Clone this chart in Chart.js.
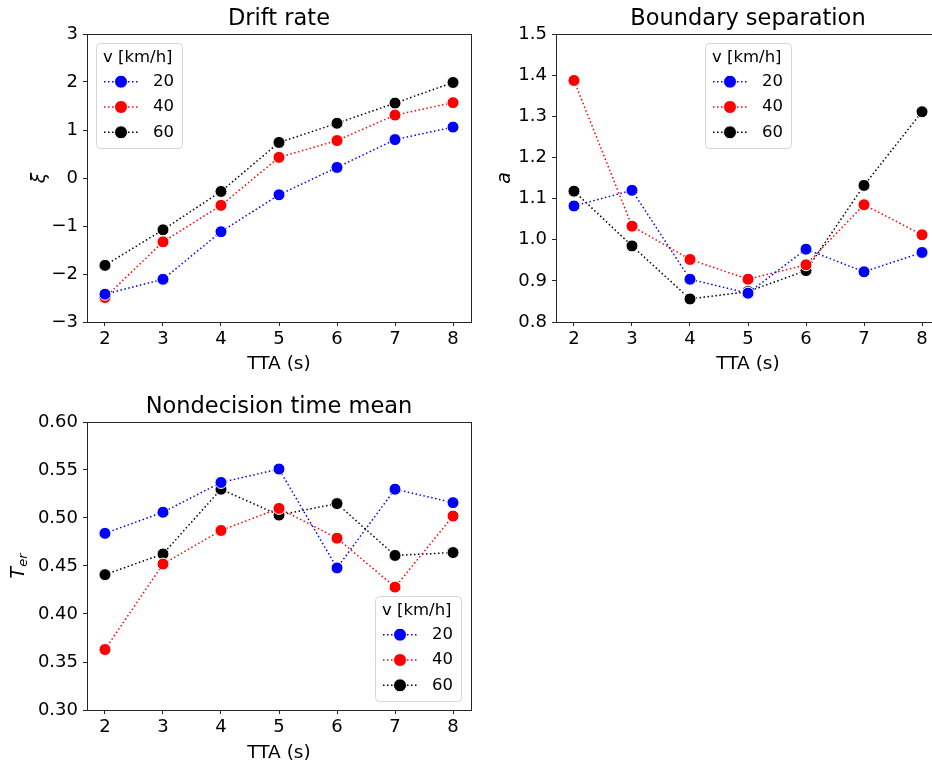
<!DOCTYPE html>
<html>
<head>
<meta charset="utf-8">
<script src="https://cdn.jsdelivr.net/npm/chart.js@4.4.1/dist/chart.umd.min.js"></script>
<style>
  html, body { margin: 0; padding: 0; background: #fff; overflow: hidden; }
  body { width: 932px; height: 765px; position: relative; }
  canvas { position: absolute; }
</style>
</head>
<body>
<canvas id="drift" width="480" height="380" style="left:0;top:0"></canvas>
<canvas id="boundary" width="480" height="380" style="left:470px;top:0"></canvas>
<canvas id="nondecision" width="480" height="380" style="left:0;top:385px"></canvas>
<script>
// TTA values (s) shared by every panel
var tta = [2, 3, 4, 5, 6, 7, 8];
var speeds = ['20', '40', '60'];
var speedColors = ['#0000ff', '#ff0000', '#000000'];

// Drift rate (xi)
var drift20 = [-2.42, -2.11, -1.12, -0.35, 0.22, 0.80, 1.06];
var drift40 = [-2.49, -1.33, -0.57, 0.43, 0.78, 1.31, 1.57];
var drift60 = [-1.82, -1.08, -0.28, 0.74, 1.14, 1.56, 1.99];
var driftTicks = [-3, -2, -1, 0, 1, 2, 3];

// Boundary separation (a)
var bound20 = [1.082, 1.120, 0.904, 0.870, 0.977, 0.922, 0.969];
var bound40 = [1.387, 1.033, 0.952, 0.904, 0.939, 1.085, 1.012];
var bound60 = [1.118, 0.985, 0.856, 0.874, 0.925, 1.132, 1.311];
var boundTicks = [0.8, 0.9, 1.0, 1.1, 1.2, 1.3, 1.4, 1.5];

// Nondecision time mean (T_er)
var ter20 = [0.484, 0.506, 0.537, 0.551, 0.448, 0.530, 0.516];
var ter40 = [0.363, 0.452, 0.487, 0.510, 0.479, 0.428, 0.502];
var ter60 = [0.441, 0.4625, 0.530, 0.503, 0.515, 0.461, 0.464];
var terTicks = [0.30, 0.35, 0.40, 0.45, 0.50, 0.55, 0.60];

var FONT = '"DejaVu Sans", "Liberation Sans", sans-serif';

// titre, étiquette y, cadre et légende dessinés à la main
var panelDeco = {
    id: 'panelDeco',
    afterDraw: function(chart, args, o) {
        var ctx = chart.ctx;
        var a = chart.chartArea;
        ctx.save();
        // cadre
        ctx.strokeStyle = '#262626';
        ctx.lineWidth = 1;
        ctx.strokeRect(Math.round(a.left) + 0.5, Math.round(a.top) + 0.5,
            Math.round(a.right - a.left), Math.round(a.bottom - a.top));

        // titre
        ctx.fillStyle = '#000';
        ctx.textAlign = 'center';
        ctx.textBaseline = 'middle';
        ctx.font = '22.5px ' + FONT;
        ctx.fillText(o.title, (a.left + a.right) / 2, a.top - 15);

        // étiquette de l'axe y (italique, avec indice éventuel)
        ctx.save();
        ctx.translate(o.ylabelX, (a.top + a.bottom) / 2);
        ctx.rotate(-Math.PI / 2);
        ctx.font = 'italic 19px ' + FONT;
        var mainW = ctx.measureText(o.ylabel).width;
        var subW = 0;
        if (o.ylabelSub) {
            ctx.font = 'italic 13px ' + FONT;
            subW = ctx.measureText(o.ylabelSub).width;
        }
        var x0 = -(mainW + subW) / 2;
        ctx.textAlign = 'left';
        ctx.textBaseline = 'alphabetic';
        ctx.font = 'italic 19px ' + FONT;
        ctx.fillText(o.ylabel, x0, 7);
        if (o.ylabelSub) {
            ctx.font = 'italic 13px ' + FONT;
            ctx.fillText(o.ylabelSub, x0 + mainW, 10);
        }
        ctx.restore();

        // légende
        var w = 86, h = 105, bx, by;
        if (o.legendPos === 'upper left') { bx = a.left + 9; by = a.top + 9; }
        else if (o.legendPos === 'upper center') { bx = (a.left + a.right) / 2 - w / 2; by = a.top + 9; }
        else { bx = a.right - 10 - w; by = a.bottom - 9 - h; }
        ctx.beginPath();
        ctx.roundRect(bx + 0.5, by + 0.5, w, h, 4);
        ctx.fillStyle = 'rgba(255,255,255,0.8)';
        ctx.fill();
        ctx.strokeStyle = '#d6d6d6';
        ctx.lineWidth = 1;
        ctx.stroke();

        ctx.fillStyle = '#000';
        ctx.font = '16.5px ' + FONT;
        ctx.textAlign = 'left';
        ctx.textBaseline = 'middle';
        ctx.fillText('v [km/h]', bx + 7, by + 15);
        chart.data.datasets.forEach(function(ds, i) {
            var ry = by + 38.7 + i * 25.3;
            ctx.save();
            ctx.strokeStyle = ds.borderColor;
            ctx.lineWidth = 1.5;
            ctx.setLineDash([1.5, 2.5]);
            ctx.beginPath();
            ctx.moveTo(bx + 8, ry);
            ctx.lineTo(bx + 42, ry);
            ctx.stroke();
            ctx.restore();
            ctx.beginPath();
            ctx.arc(bx + 25, ry, 6.5, 0, Math.PI * 2);
            ctx.fillStyle = ds.pointBackgroundColor;
            ctx.fill();
            ctx.strokeStyle = '#fff';
            ctx.lineWidth = 1;
            ctx.stroke();
            ctx.fillStyle = '#000';
            ctx.fillText(ds.label, bx + 57, ry);
        });
        ctx.restore();
    }
};

function makePoints(values) {
    return tta.map(function(t, i) { return { x: t, y: values[i] }; });
}

function makeChart(id, series, yTicks, yDecimals, opts) {
    var datasets = series.map(function(values, i) {
        return {
            label: speeds[i],
            data: makePoints(values),
            borderColor: speedColors[i],
            backgroundColor: speedColors[i],
            pointBackgroundColor: speedColors[i],
            pointBorderColor: '#ffffff',
            pointBorderWidth: 1,
            pointRadius: 6,
            borderWidth: 1.5,
            borderDash: [1.5, 2.5],
            tension: 0
        };
    });
    var tickFont = { family: FONT, size: 18 };
    return new Chart(document.getElementById(id), {
        type: 'line',
        data: { datasets: datasets },
        options: {
            responsive: false,
            animation: false,
            events: [],
            layout: { padding: { top: opts.top, right: opts.right, left: 0, bottom: 0 } },
            plugins: {
                legend: { display: false },
                tooltip: { enabled: false },
                panelDeco: opts.deco
            },
            scales: {
                x: {
                    type: 'linear',
                    min: 1.69,
                    max: 8.31,
                    afterBuildTicks: function(s) {
                        s.ticks = tta.map(function(v) { return { value: v }; });
                    },
                    afterFit: function(s) { s.height = opts.bottom; },
                    ticks: {
                        font: tickFont, color: '#000', padding: 3,
                        maxRotation: 0,
                        callback: function(v) { return String(v); }
                    },
                    grid: { drawOnChartArea: false, drawTicks: true, tickLength: 4, color: '#262626' },
                    border: { display: false },
                    title: {
                        display: true, text: 'TTA (s)', color: '#000',
                        font: { family: FONT, size: 18.5 },
                        padding: { top: 0, bottom: opts.xtitlePad }
                    }
                },
                y: {
                    type: 'linear',
                    min: yTicks[0],
                    max: yTicks[yTicks.length - 1],
                    afterBuildTicks: function(s) {
                        s.ticks = yTicks.map(function(v) { return { value: v }; });
                    },
                    afterFit: function(s) { s.width = opts.left; },
                    ticks: {
                        font: tickFont, color: '#000', padding: 5,
                        callback: function(v) {
                            return v.toFixed(yDecimals).replace('-', '\u2212');
                        }
                    },
                    grid: { drawOnChartArea: false, drawTicks: true, tickLength: 4, color: '#262626' },
                    border: { display: false }
                }
            }
        },
        plugins: [panelDeco]
    });
}

makeChart('drift', [drift20, drift40, drift60], driftTicks, 0, {
    left: 87, top: 34, right: 9, bottom: 58, xtitlePad: 5,
    deco: { title: 'Drift rate', ylabel: '\u03be', ylabelX: 38, legendPos: 'upper left' }
});
makeChart('boundary', [bound20, bound40, bound60], boundTicks, 1, {
    left: 86, top: 34, right: 10, bottom: 58, xtitlePad: 5,
    deco: { title: 'Boundary separation', ylabel: 'a', ylabelX: 33, legendPos: 'upper center' }
});
makeChart('nondecision', [ter20, ter40, ter60], terTicks, 2, {
    left: 87, top: 37, right: 9, bottom: 55, xtitlePad: 1,
    deco: { title: 'Nondecision time mean', ylabel: 'T', ylabelSub: 'er', ylabelX: 17, legendPos: 'lower right' }
});
</script>
</body>
</html>
